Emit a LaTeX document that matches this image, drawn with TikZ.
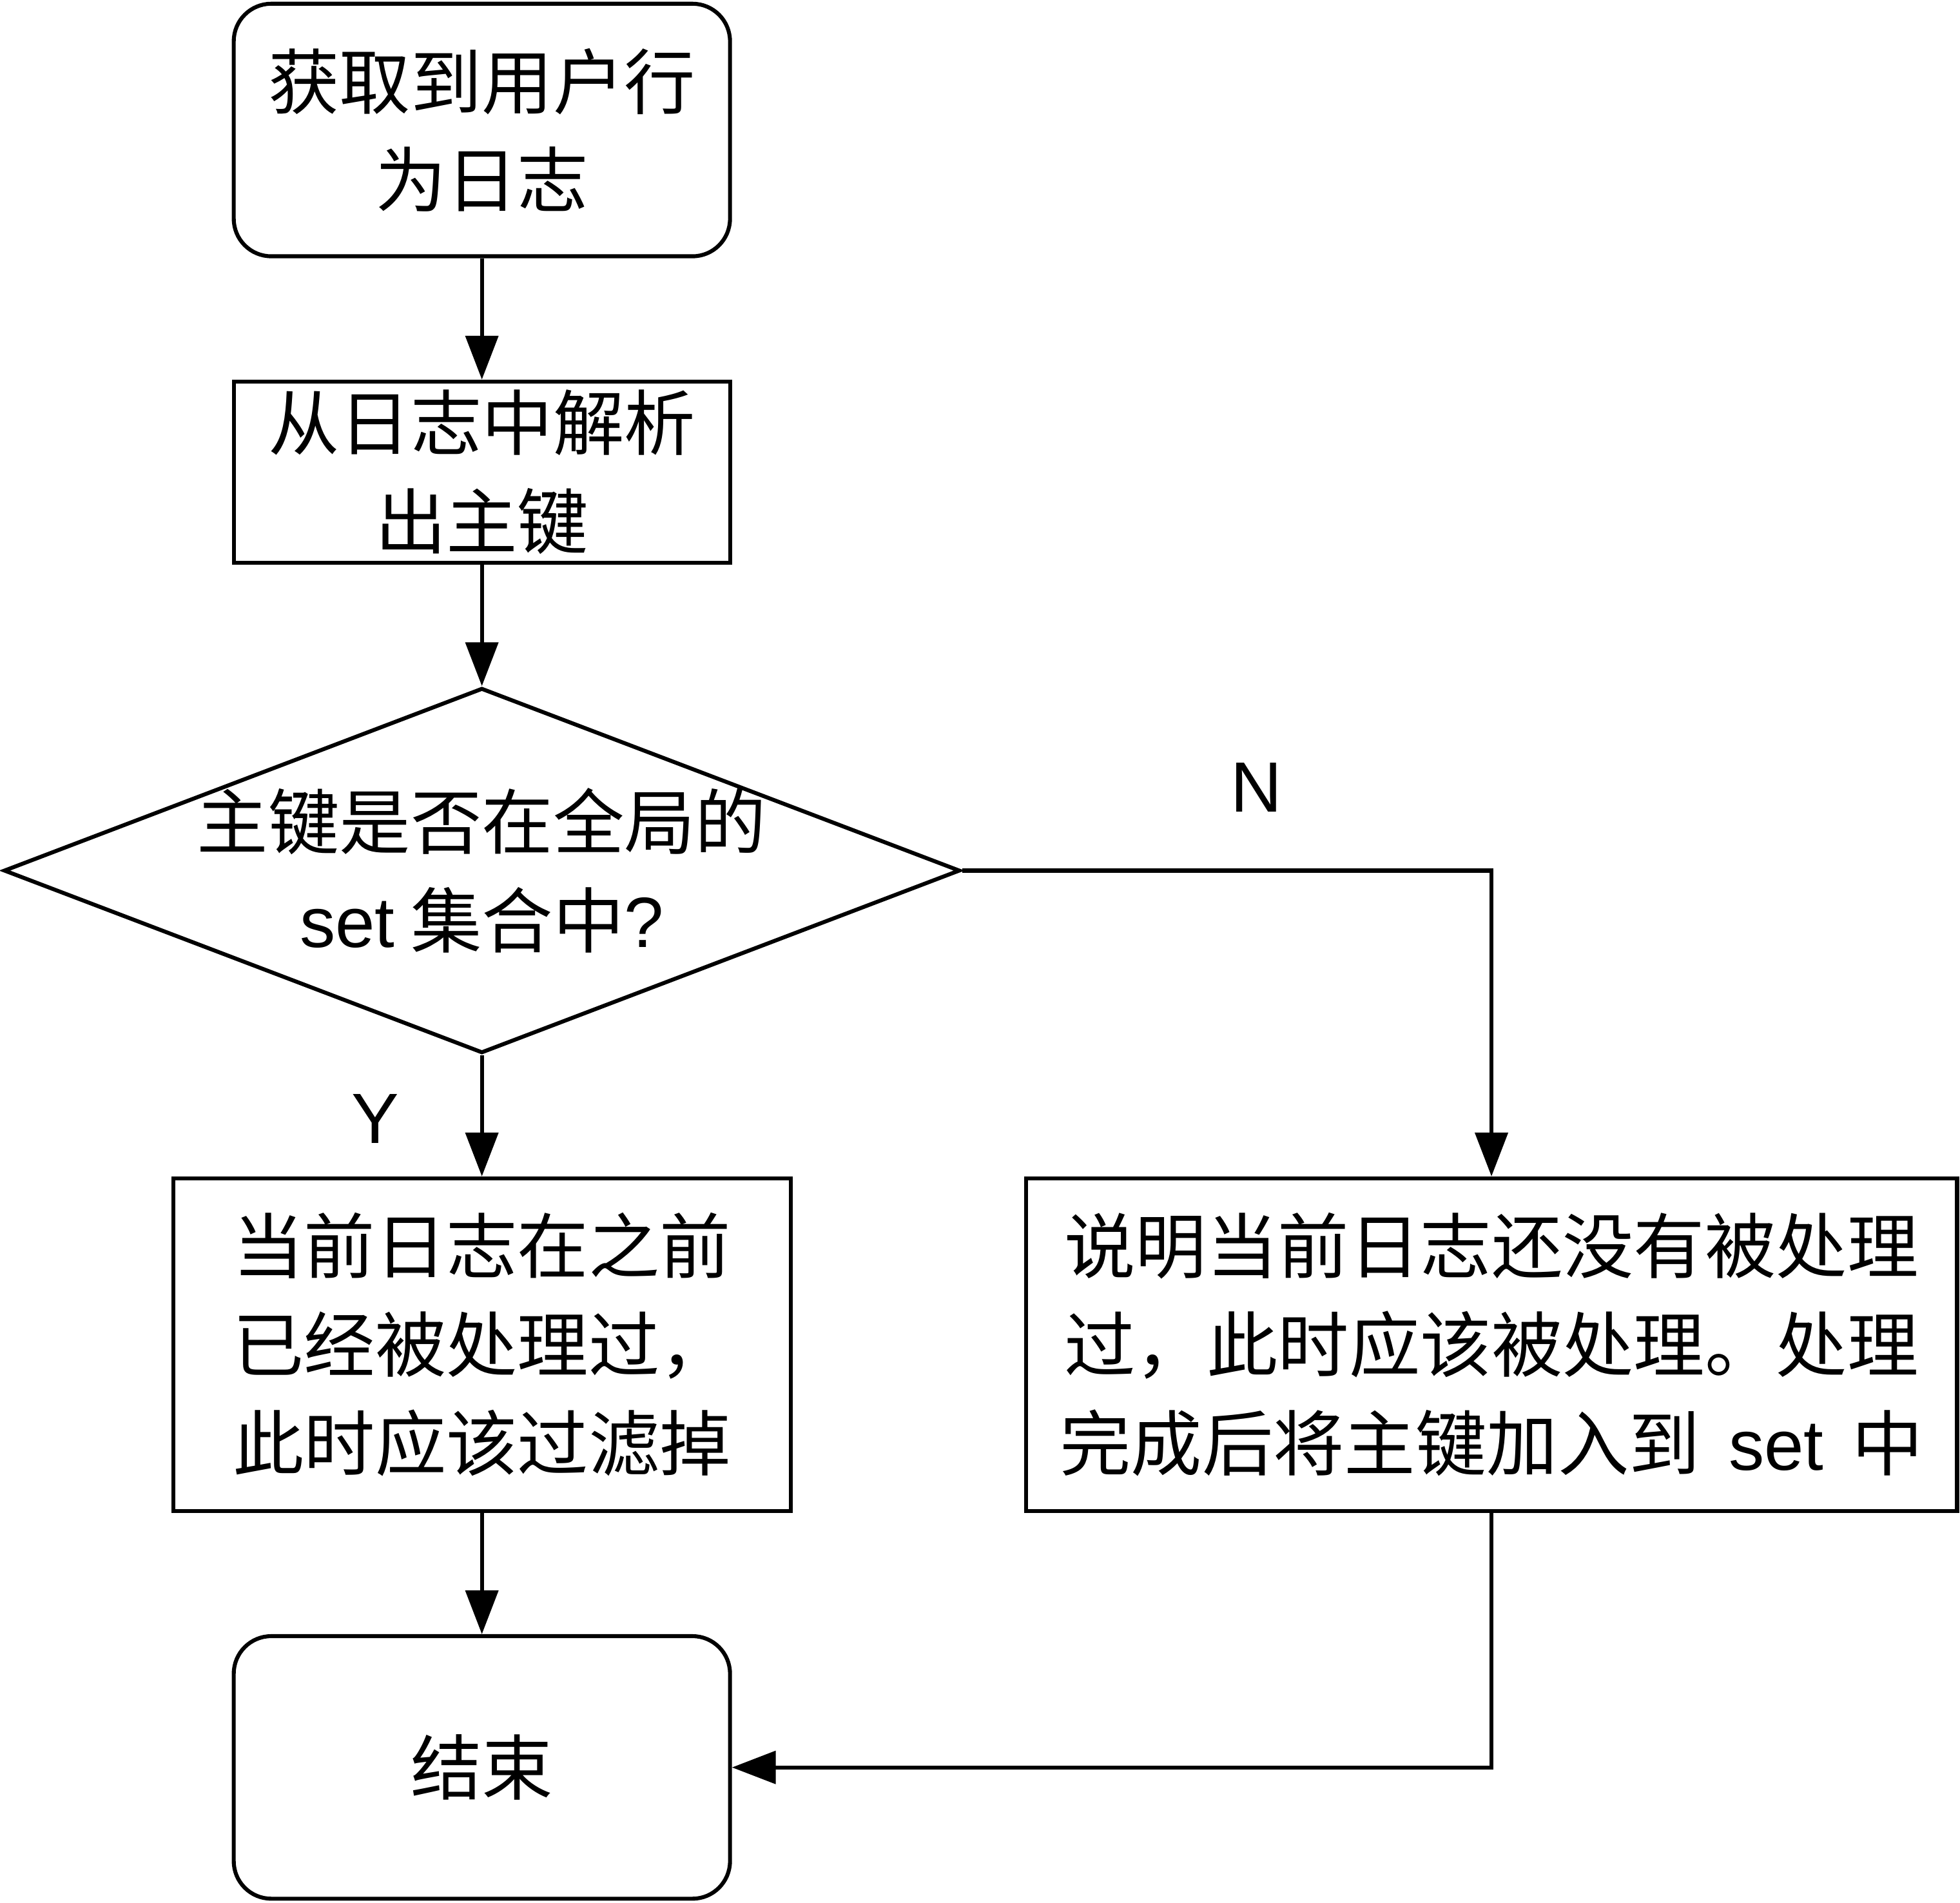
\documentclass[tikz,border=0pt]{standalone}
\usepackage{fontspec}
\setmainfont{Liberation Sans}
\newfontfamily\cjkfont{Noto Sans CJK SC}
\newcommand\latin[1]{{\rmfamily #1}}
\usetikzlibrary{shapes.geometric,arrows.meta,positioning}

\begin{document}
\begin{tikzpicture}[node distance=0.97cm and 1.85cm,
      box/.style={draw,line width=0.9pt,align=center,inner sep=0pt,
        font=\fontsize{16.2}{22.4}\selectfont\cjkfont},
      rbox/.style={box,rounded corners=0.3cm},
      dia/.style={draw,line width=0.9pt,diamond,minimum width=7.65cm,
        minimum height=2.92cm,inner sep=0pt},
      lbl/.style={font=\fontsize{16.2}{22.4}\selectfont},
      arr/.style={-{Triangle[length=3.5mm,width=2.6mm]},line width=0.9pt}]
    \useasboundingbox (0,0) rectangle (15.68,-15.22);
    \node[rbox,minimum width=3.97cm,minimum height=2.02cm](start) at (3.855,-1.04)
      {获取到用户行\\为日志};
    \node[box,minimum width=3.97cm,minimum height=1.45cm,below=of start](key)
      {从日志中解析\\出主键};
    \node[dia,below=of key](q){};
    \node[box,draw=none](qtext) at (q)
      {主键是否在全局的\\\latin{set} 集合中\latin{?}};
    \node[box,minimum width=4.94cm,minimum height=2.66cm,below=of q](dup)
      {当前日志在之前\\已经被处理过，\\此时应该过滤掉};
    \node[box,minimum width=7.45cm,minimum height=2.66cm,right=of dup](new)
      {说明当前日志还没有被处理\\过，此时应该被处理。处理\\完成后将主键加入到\hspace{0.1cm} \latin{set}\hspace{0.1cm} 中};
    \node[rbox,minimum width=3.97cm,minimum height=2.10cm,below=of dup](fin)
      {结束};
    \node[lbl](yes) at (3.00,-8.95){Y};
    \node[lbl](no) at (10.05,-6.30){N};
    \draw[arr](start)--(key);
    \draw[arr](key)--(q);
    \draw[arr](q)--(dup);
    \draw[arr](q.east)-|(new);
    \draw[arr](dup)--(fin);
    \draw[arr](new)|-(fin);
  \end{tikzpicture}
\end{document}
